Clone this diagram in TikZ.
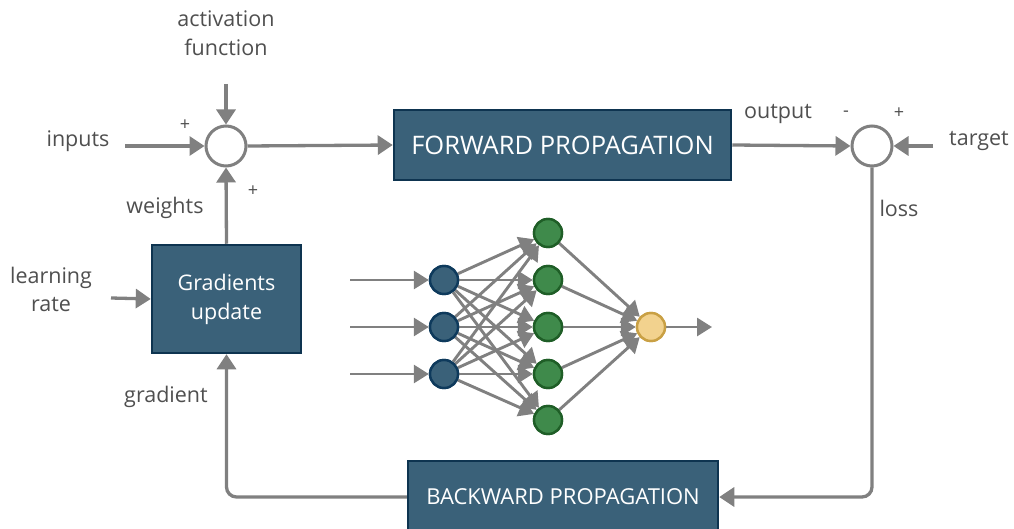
\documentclass[tikz,border=0pt]{standalone}
\usepackage{fontspec}
\setmainfont{Open Sans}
\usetikzlibrary{arrows.meta}
\definecolor{linegray}{HTML}{808080}
\definecolor{txtgray}{HTML}{4F4F4F}
\definecolor{boxfill}{HTML}{3A6179}
\definecolor{boxline}{HTML}{0E3450}
\definecolor{inblue}{HTML}{3A6179}
\definecolor{inline}{HTML}{0E3A5C}
\definecolor{hidfill}{HTML}{3F8A4B}
\definecolor{hidline}{HTML}{1F5E27}
\definecolor{outfill}{HTML}{F2D28E}
\definecolor{outline}{HTML}{C9A044}
\tikzset{
  flow/.style={draw=linegray, line width=3.3pt, -{Triangle[length=15pt,width=19pt]}},
  sumnode/.style={circle, draw=linegray, line width=3pt, fill=white, minimum size=40pt, inner sep=0pt},
  block/.style={draw=boxline, line width=2.5pt, fill=boxfill, text=white, inner sep=0pt},
  lbl/.style={text=txtgray, font=\fontsize{21.5}{26}\selectfont, inner sep=0pt},
  sign/.style={text=txtgray, font=\fontsize{18}{20}\selectfont, inner sep=0pt},
  neuron/.style={circle, line width=2.4pt, minimum size=28pt, inner sep=0pt},
  inneuron/.style={neuron, draw=inline, fill=inblue},
  hidneuron/.style={neuron, draw=hidline, fill=hidfill},
  outneuron/.style={neuron, draw=outline, fill=outfill},
  nnedge/.style={draw=linegray, line width=2.9pt, -{Triangle[length=15pt,width=18pt]}}
}
\begin{document}
\begin{tikzpicture}[x=1pt, y=-1pt]
\useasboundingbox (0,0) rectangle (1014,529);

% summing junctions
\node[sumnode] (sumL) at (226,146) {};
\node[sumnode] (sumR) at (872,146) {};

% blocks
\node[block, minimum width=337pt, minimum height=70pt, font=\fontsize{25.5}{30}\selectfont] (fwd) at (562.5,145) {FORWARD PROPAGATION};
\node[block, minimum width=149pt, minimum height=108pt, font=\fontsize{21.5}{29}\selectfont, align=center] (grad) at (226.5,299) {Gradients\\update};
\node[block, minimum width=310pt, minimum height=72pt, font=\fontsize{22}{26}\selectfont] (bwd) at (563,497) {BACKWARD PROPAGATION};

% labels
\node[lbl, align=center, font=\fontsize{21.5}{29}\selectfont] (act) at (226,33) {activation\\function};
\node[lbl] (inp) at (78,141) {inputs};
\node[lbl] (wts) at (165,208) {weights};
\node[lbl, align=center, font=\fontsize{21.5}{28}\selectfont] (lr) at (51,289) {learning\\rate};
\node[lbl] (gr) at (166,397) {gradient};
\node[lbl] (outp) at (778,114) {output};
\node[lbl] (tgt) at (979,141) {target};
\node[lbl] (loss) at (899,208) {loss};
\node[sign] (p1) at (185,125) {+};
\node[sign] (p2) at (253,191) {+};
\node[sign] (m1) at (846,114) {-};
\node[sign] (p3) at (899,113) {+};

% free ends of the input lines
\coordinate (actS) at (226,84);
\coordinate (inpS) at (125,146);
\coordinate (lrS) at (111,298);
\coordinate (tgtS) at (933,146);

% main loop
\draw[flow] (actS) -- (sumL.north);
\draw[flow] (inpS) -- (sumL.west);
\draw[flow] (grad.north) -- (sumL.south);
\draw[flow] (sumL.east) -- (fwd.west);
\draw[flow] (fwd.east) -- (sumR.west);
\draw[flow] (tgtS) -- (sumR.east);
\draw[flow, rounded corners=10pt] (sumR.south) |- (bwd.east);
\draw[flow, rounded corners=10pt] (bwd.west) -| (grad.south);
\draw[flow] (lrS) -- (grad.west);

% neural network
\foreach \i/\y in {1/280,2/327,3/374} {
  \node[inneuron] (i\i) at (444,\y) {};
  \coordinate (s\i) at (350,\y);
}
\foreach \j/\y in {1/233,2/280,3/327,4/374,5/420} {
  \node[hidneuron] (h\j) at (548,\y) {};
}
\node[outneuron] (o) at (651,327) {};
\coordinate (oe) at (712,327);

\foreach \i in {1,2,3} { \draw[nnedge] (s\i) -- (i\i.west); }
\foreach \i in {1,2,3} {
  \foreach \j in {1,...,5} { \draw[nnedge] (i\i) -- (h\j); }
}
\foreach \j in {1,...,5} { \draw[nnedge] (h\j) -- (o); }
\draw[nnedge] (o.east) -- (oe);
\foreach \i in {1,2,3} { \node[inneuron] at (i\i) {}; }
\foreach \j in {1,...,5} { \node[hidneuron] at (h\j) {}; }
\node[outneuron] at (o) {};
\end{tikzpicture}
\end{document}
